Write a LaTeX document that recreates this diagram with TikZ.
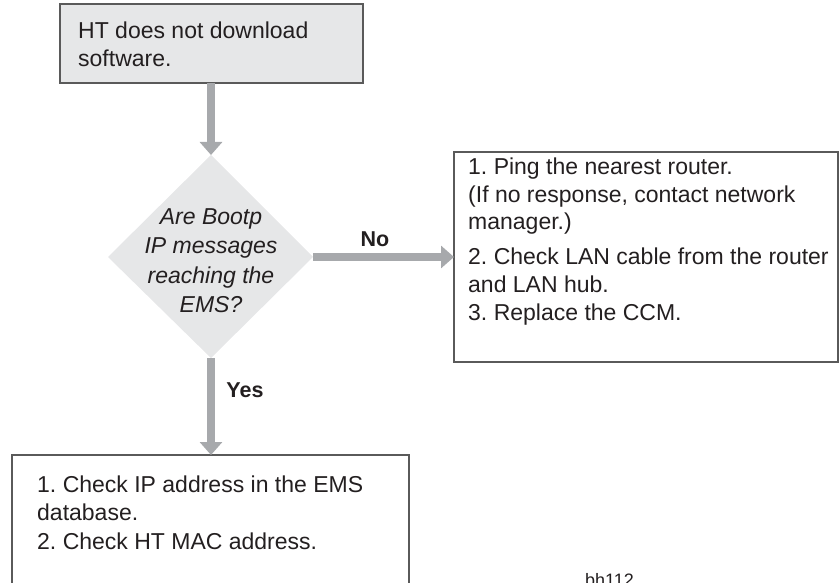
\documentclass[tikz,border=0pt]{standalone}
\usepackage{fontspec}
\setmainfont{Liberation Sans}
\usetikzlibrary{shapes.geometric,arrows.meta}
\definecolor{boxfill}{HTML}{E6E7E8}
\definecolor{boxline}{HTML}{5A5A5A}
\definecolor{arrowgrey}{HTML}{A7A9AC}
\definecolor{txt}{HTML}{231F20}
\tikzset{
  x=1pt, y=-1pt,
  flowbox/.style={draw=boxline, line width=1.2pt, inner sep=0pt},
  flowarrow/.style={draw=arrowgrey, line width=7.5pt,
     -{Triangle[width=22pt,length=13pt]}, shorten >=0pt},
  bodytext/.style={font=\frenchspacing\fontsize{23}{27.5}\selectfont, text=txt, align=left, anchor=north west, inner sep=0pt},
  lbl/.style={font=\fontsize{21.5}{24}\selectfont\bfseries, text=txt, inner sep=0pt, anchor=base}
}
\begin{document}
\begin{tikzpicture}
\useasboundingbox (0,0) rectangle (839,583);
\begin{scope}
\clip (0,0) rectangle (839,583);
% top box
\path[flowbox, fill=boxfill] (60,4) rectangle (363,83);
\coordinate (topB) at (211,83);
\node[bodytext] (toptxt) at (78,22) {HT does not download\\software.};
% diamond
\path[fill=boxfill] (211,155) -- (313,257) -- (211,358) -- (108,257) -- cycle;
\coordinate (dT) at (211,155);
\coordinate (dR) at (313,257);
\coordinate (dB) at (211,358);
\node[font=\fontsize{23}{29.5}\selectfont\itshape, text=txt, align=center, inner sep=0pt, anchor=north] (dtxt) at (211,208)
  {Are Bootp\\IP messages\\reaching the\\EMS?};
% right box
\path[flowbox] (454,152) rectangle (838,362);
\coordinate (rL) at (454,257);
\node[bodytext] (r1) at (468,158) {1. Ping the nearest router.\\(If no response, contact network\\manager.)};
\node[bodytext] (r2) at (468,248) {2. Check LAN cable from the router\\and LAN hub.};
\node[bodytext] (r3) at (468,304) {3. Replace the CCM.};
% bottom box
\path[flowbox] (12,455) rectangle (409,600);
\coordinate (bT) at (211,455);
\node[bodytext] (b1) at (37,476) {1. Check IP address in the EMS\\database.};
\node[bodytext] (b2) at (37,533) {2. Check HT MAC address.};
% arrows
\draw[flowarrow] (topB) -- (dT);
\draw[flowarrow] (dR) -- (rL);
\draw[flowarrow] (dB) -- (bT);
\node[lbl] (no) at (375,247) {No};
\node[lbl] (yes) at (245,397) {Yes};
\node[font=\fontsize{18}{20}\selectfont, text=txt, anchor=north west, inner sep=0pt] (code) at (585,573) {bh112};
\end{scope}
\end{tikzpicture}
\end{document}
